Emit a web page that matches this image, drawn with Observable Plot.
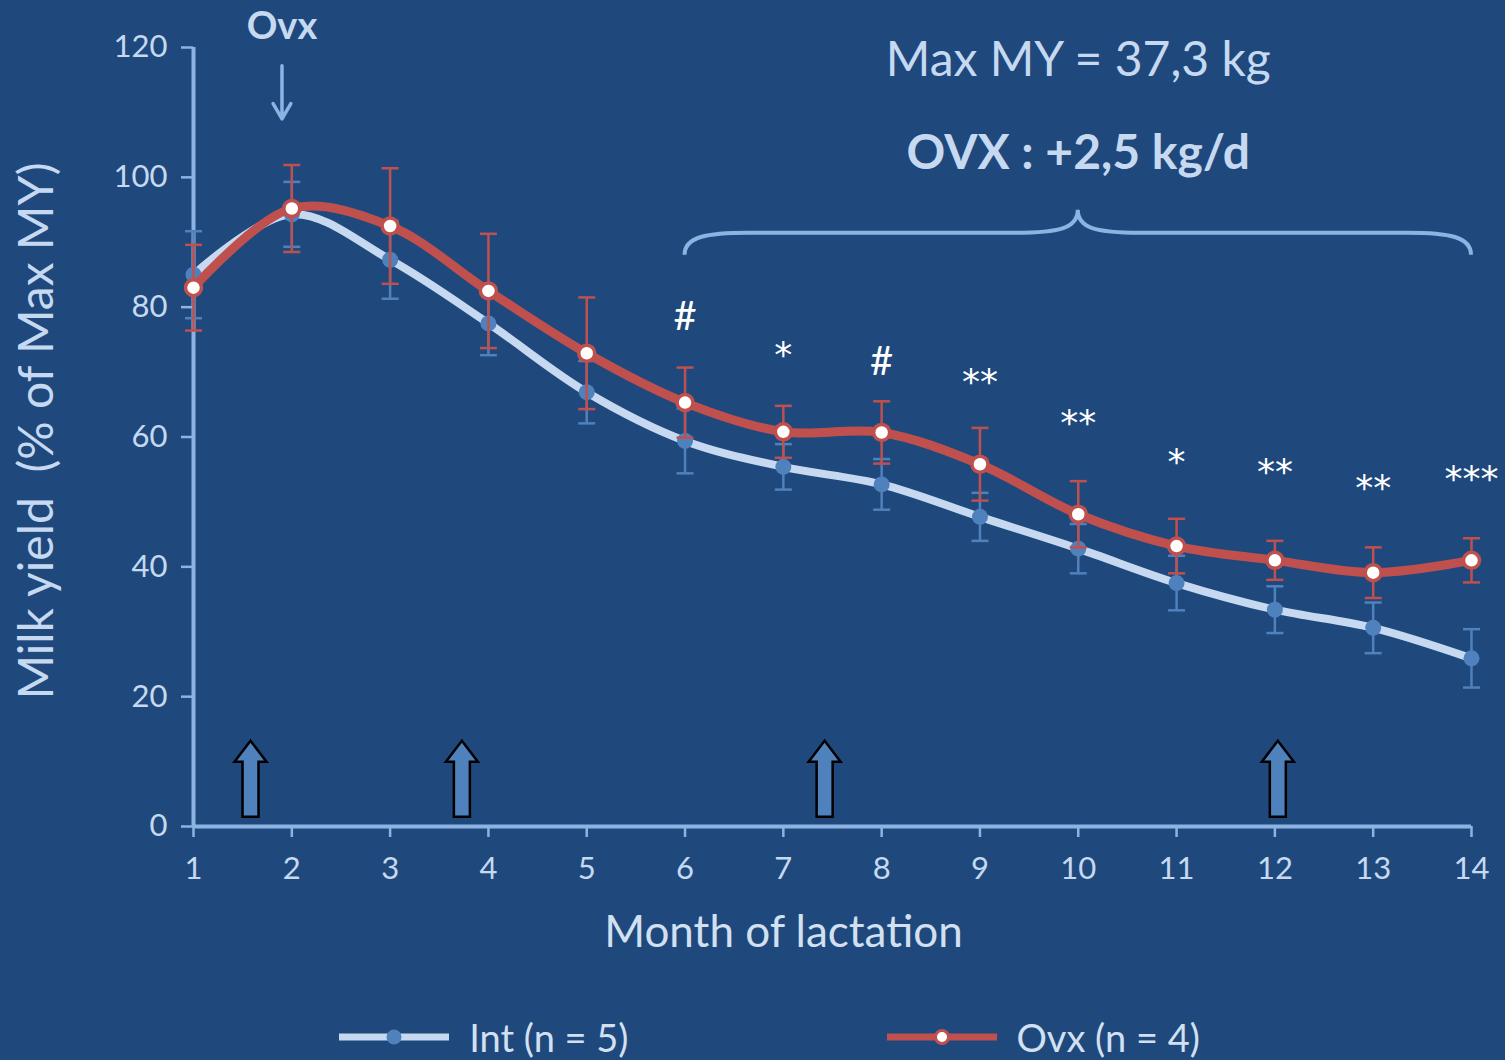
<!DOCTYPE html>
<html>
<head>
<meta charset="utf-8">
<script src="https://cdn.jsdelivr.net/npm/d3@7"></script>
<script src="https://cdn.jsdelivr.net/npm/@observablehq/plot@0.6"></script>
<style>
  html, body { margin: 0; padding: 0; background: #1f497d; }
  #wrap { position: relative; width: 1505px; height: 1060px; overflow: hidden; font-family: Lato, "Open Sans", sans-serif; }
  #legend { position: absolute; left: 17px; top: 1010px; width: 1505px; height: 54px;
            display: flex; justify-content: center; align-items: center; gap: 258px;
            color: #d3e0f2; font-size: 38px; line-height: 44px; }
  .item { display: flex; align-items: center; }
  .item svg { margin-right: 20px; }
</style>
</head>
<body>
<div id="wrap">
  <div id="chart"></div>
  <div id="legend"></div>
</div>
<script>
// Milk yield through lactation, % of maximum milk yield (mean ± SE)
const months  = [1, 2, 3, 4, 5, 6, 7, 8, 9, 10, 11, 12, 13, 14];
const intMean = [85.0, 94.3, 87.3, 77.5, 66.9, 59.4, 55.4, 52.7, 47.7, 42.8, 37.5, 33.4, 30.6, 25.9];
const intSE   = [6.7, 5.0, 6.0, 4.9, 4.8, 5.0, 3.5, 3.9, 3.7, 3.8, 4.2, 3.6, 3.9, 4.5];
const ovxMean = [83.0, 95.2, 92.5, 82.5, 72.9, 65.3, 60.8, 60.7, 55.8, 48.1, 43.2, 41.0, 39.1, 41.0];
const ovxSE   = [6.6, 6.7, 8.9, 8.8, 8.6, 5.4, 4.0, 4.8, 5.6, 5.1, 4.2, 3.0, 3.9, 3.4];

// Significance of the Ovx vs Int difference (label and its height, % of Max MY)
const sigMonths = [6, 7, 8, 9, 10, 11, 12, 13, 14];
const sigLabels = ["#", "*", "#", "**", "**", "*", "**", "**", "***"];
const sigY      = [78.5, 73.3, 71.5, 69.1, 62.8, 56.8, 55.3, 52.8, 54.3];

// Events marked along the time axis
const eventMonths = [1.58, 3.73, 7.42, 12.03];

// Ovariectomy time, summary texts and the bracket over months 6–14
const ovxMonth = 1.9;
const braceSpan = [6, 14];
const braceTip = 10;
const braceY = 88;
const summaryLines = ["Max MY = 37,3 kg", "OVX : +2,5 kg/d"];

const intRows = months.map((m, i) => ({month: m, mean: intMean[i], lo: intMean[i] - intSE[i], hi: intMean[i] + intSE[i]}));
const ovxRows = months.map((m, i) => ({month: m, mean: ovxMean[i], lo: ovxMean[i] - ovxSE[i], hi: ovxMean[i] + ovxSE[i]}));
const sigRows = sigMonths.map((m, i) => ({month: m, label: sigLabels[i], y: sigY[i]}));

const C = {
  axis: "#8db3e2", text: "#c6d9f1", pale: "#c6d9f1",
  blue: "#4f81bd", red: "#c0504d"
};

// Horizontal error-bar cap as a dot symbol
const cap = {draw(ctx, size) { const w = Math.sqrt(size / Math.PI); ctx.moveTo(-w, 0); ctx.lineTo(w, 0); }};

// Block arrow drawn upward from its base
const blockArrow = {
  draw(ctx, l) {
    const s = 8, h = 16, hl = 21;
    ctx.moveTo(-s, 0); ctx.lineTo(-s, -(l - hl)); ctx.lineTo(-h, -(l - hl));
    ctx.lineTo(0, -l); ctx.lineTo(h, -(l - hl)); ctx.lineTo(s, -(l - hl));
    ctx.lineTo(s, 0); ctx.closePath();
  }
};

// Curly bracket over a range of months
function brace(index, scales) {
  const {x, y} = scales;
  const x1 = x(braceSpan[0]), x2 = x(braceSpan[1]), xm = x(braceTip);
  const yb = y(braceY), yh = yb - 22, yt = yh - 23;
  const d = `M${x1},${yb} C${x1},${yh + 4} ${x1 + 22},${yh} ${x1 + 64},${yh}`
    + ` L${xm - 62},${yh} C${xm - 20},${yh} ${xm},${yh - 4} ${xm},${yt}`
    + ` C${xm},${yh - 4} ${xm + 20},${yh} ${xm + 62},${yh}`
    + ` L${x2 - 64},${yh} C${x2 - 22},${yh} ${x2},${yh + 4} ${x2},${yb}`;
  const p = document.createElementNS("http://www.w3.org/2000/svg", "path");
  p.setAttribute("d", d);
  p.setAttribute("fill", "none");
  p.setAttribute("stroke", C.axis);
  p.setAttribute("stroke-width", 4);
  return p;
}

const chart = Plot.plot({
  width: 1505,
  height: 1000,
  marginTop: 47,
  marginLeft: 193,
  marginRight: 34,
  marginBottom: 174,
  style: {background: "transparent", color: C.text, fontFamily: "Lato, 'Open Sans', sans-serif", overflow: "visible"},
  x: {domain: [1, 14]},
  y: {domain: [0, 120]},
  marks: [
    Plot.axisX({ticks: months, tickFormat: d => d, tickSize: 11, tickPadding: 19, fontSize: 31, stroke: C.axis, strokeWidth: 2.5, fill: C.text, label: null}),
    Plot.axisY({ticks: [0, 20, 40, 60, 80, 100, 120], tickSize: 12, tickPadding: 14, fontSize: 31, stroke: C.axis, strokeWidth: 2.5, fill: C.text, label: null}),
    Plot.ruleY([0], {stroke: C.axis, strokeWidth: 4}),
    Plot.ruleX([1], {stroke: C.axis, strokeWidth: 4}),

    Plot.text(["Month of lactation"], {frameAnchor: "bottom", dx: -49, dy: 120, fontSize: 44, fill: "#d3e0f2"}),
    Plot.text(["Milk yield  (% of Max MY)"], {frameAnchor: "left", textAnchor: "middle", rotate: -90, dx: -156, dy: -6, fontSize: 48, fill: C.text}),

    // event arrows
    Plot.vector(eventMonths, {x: d => d, y: 1.5, anchor: "start", length: 76, shape: blockArrow,
      fill: C.blue, stroke: "black", strokeWidth: 2.5, strokeLinejoin: "miter"}),

    // Int series
    Plot.line(intRows, {x: "month", y: "mean", curve: "catmull-rom", stroke: C.pale, strokeWidth: 8}),
    Plot.ruleX(intRows, {x: "month", y1: "lo", y2: "hi", stroke: C.blue, strokeWidth: 2.5}),
    Plot.dot(intRows, {x: "month", y: "lo", symbol: cap, r: 8.5, stroke: C.blue, strokeWidth: 2.5, fill: "none"}),
    Plot.dot(intRows, {x: "month", y: "hi", symbol: cap, r: 8.5, stroke: C.blue, strokeWidth: 2.5, fill: "none"}),
    Plot.dot(intRows, {x: "month", y: "mean", r: 8, fill: C.blue, stroke: "none"}),

    // Ovx series
    Plot.line(ovxRows, {x: "month", y: "mean", curve: "catmull-rom", stroke: C.red, strokeWidth: 9}),
    Plot.ruleX(ovxRows, {x: "month", y1: "lo", y2: "hi", stroke: C.red, strokeWidth: 2.5}),
    Plot.dot(ovxRows, {x: "month", y: "lo", symbol: cap, r: 8.5, stroke: C.red, strokeWidth: 2.5, fill: "none"}),
    Plot.dot(ovxRows, {x: "month", y: "hi", symbol: cap, r: 8.5, stroke: C.red, strokeWidth: 2.5, fill: "none"}),
    Plot.dot(ovxRows, {x: "month", y: "mean", r: 8, fill: "white", stroke: C.red, strokeWidth: 3.5}),

    // significance labels
    Plot.text(sigRows.filter(d => d.label === "#"), {x: "month", y: "y", text: "label", fontSize: 40, fill: "white"}),
    Plot.text(sigRows.filter(d => d.label !== "#"), {x: "month", y: "y", text: "label", fontSize: 36, fill: "white", dy: 5,
      fontFamily: "'DejaVu Sans', sans-serif", style: "letter-spacing: 3px"}),

    // ovariectomy marker
    Plot.text(["Ovx"], {x: ovxMonth, y: 123.2, fontSize: 38, fontWeight: "bold", fill: C.text}),
    Plot.arrow([ovxMonth], {x1: d => d, x2: d => d, y1: 117.2, y2: 109, stroke: C.axis, strokeWidth: 3.5, headLength: 8}),

    // summary and bracket
    brace,
    Plot.text([summaryLines[0]], {x: braceTip, y: 118, fontSize: 48, fill: C.text}),
    Plot.text([summaryLines[1]], {x: braceTip, y: 103.7, fontSize: 48, fontWeight: "bold", fill: C.text})
  ]
});
document.getElementById("chart").appendChild(chart);

// Legend
const legend = d3.select("#legend");
const items = [
  {label: "Int (n = 5)", line: C.pale, dotFill: C.blue, dotStroke: "none", r: 7.5, sw: 0},
  {label: "Ovx (n = 4)", line: C.red, dotFill: "white", dotStroke: C.red, r: 6.5, sw: 3}
];
for (const it of items) {
  const div = legend.append("div").attr("class", "item");
  const s = div.append("svg").attr("width", 110).attr("height", 22);
  s.append("line").attr("x1", 0).attr("x2", 110).attr("y1", 11).attr("y2", 11).attr("stroke", it.line).attr("stroke-width", 7);
  s.append("circle").attr("cx", 55).attr("cy", 11).attr("r", it.r).attr("fill", it.dotFill).attr("stroke", it.dotStroke).attr("stroke-width", it.sw);
  div.append("span").text(it.label);
}
</script>
</body>
</html>
